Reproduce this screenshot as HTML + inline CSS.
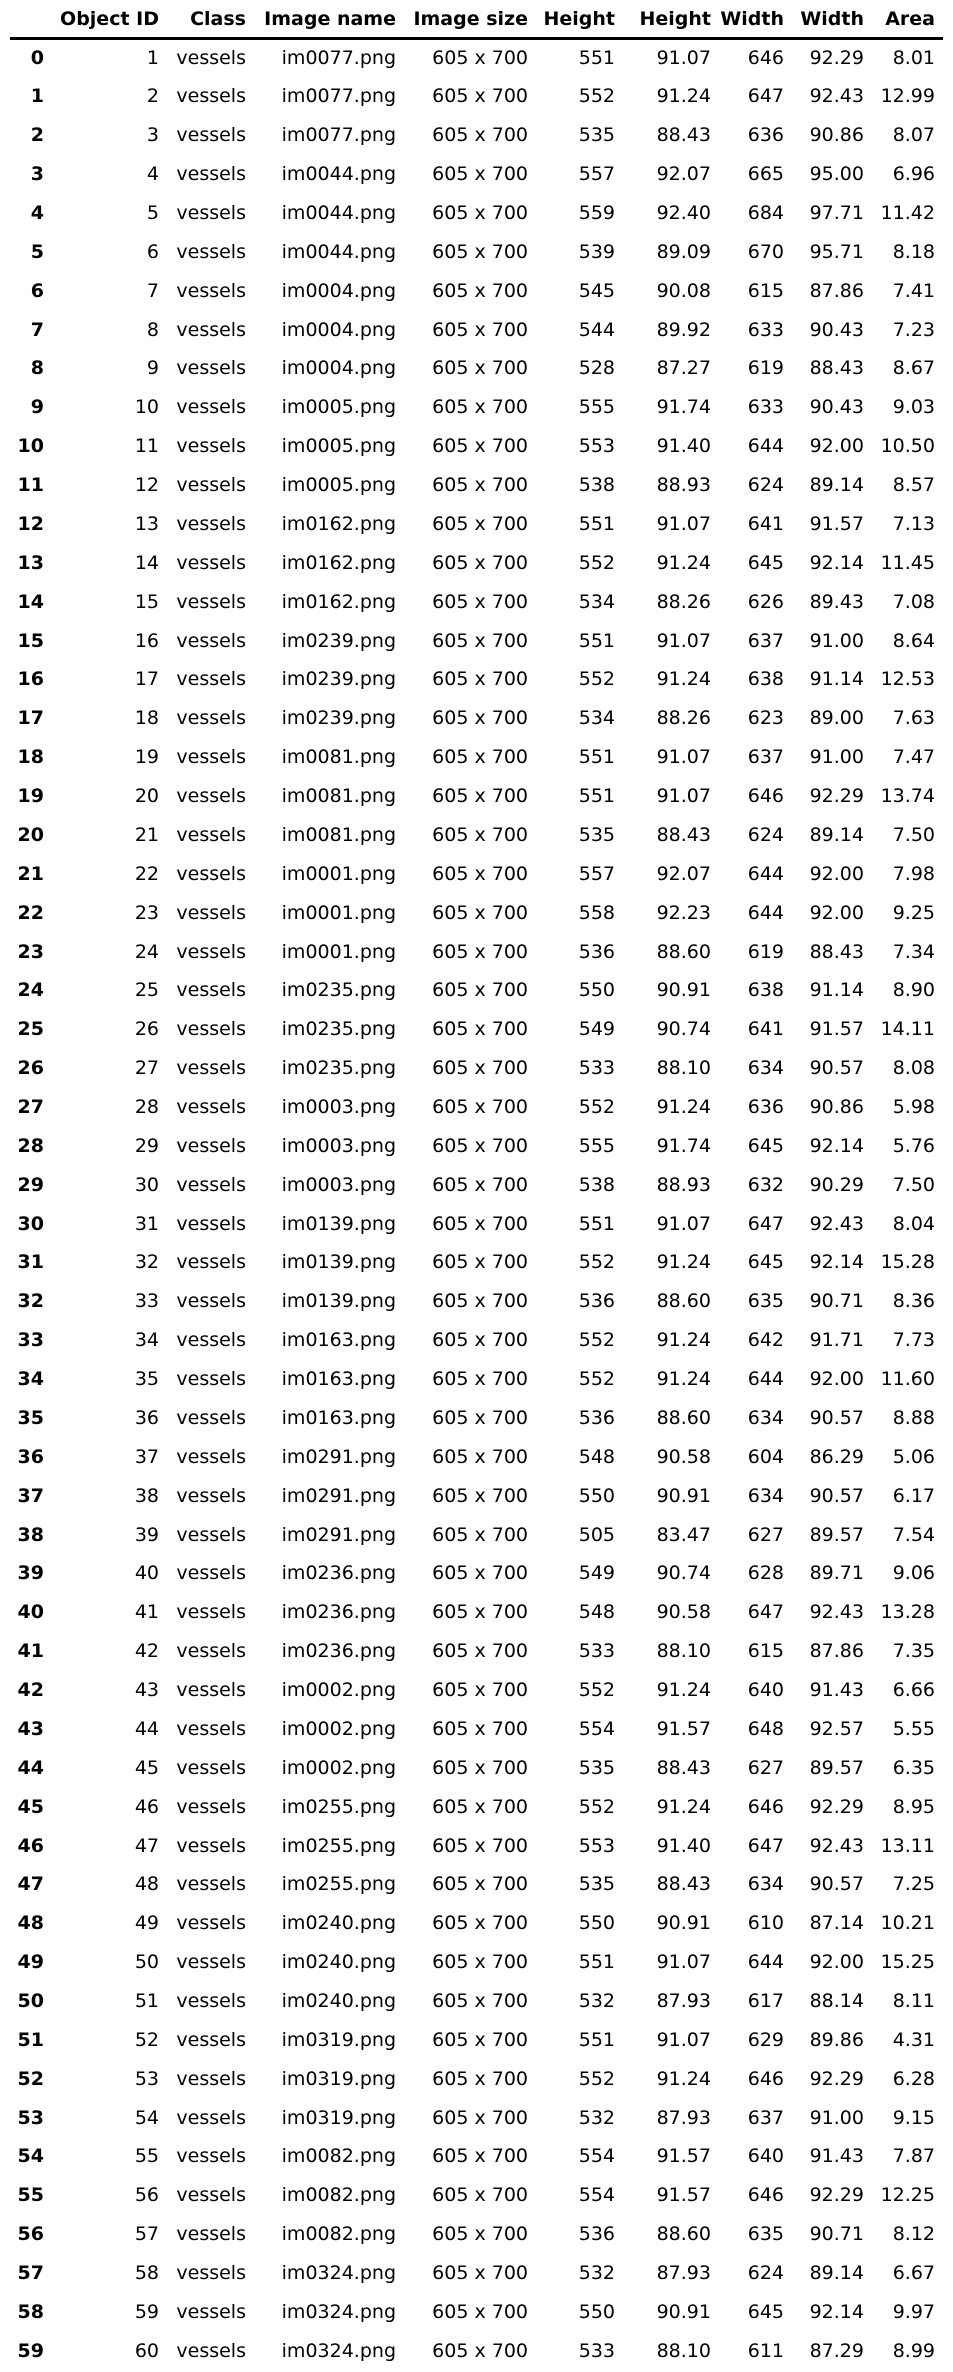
<!DOCTYPE html>
<html><head><meta charset="utf-8">
<style>
html,body{margin:0;padding:0;background:#fff;}
#tbl{position:relative;width:953px;height:2372px;font-family:"DejaVu Sans","Liberation Sans",sans-serif;font-size:19px;color:#000;}
.c{position:absolute;white-space:nowrap;line-height:24px;height:24px;}
.b{font-weight:bold;}
#rule{position:absolute;left:10px;width:933px;top:37px;height:3px;background:#000;}
</style></head>
<body>
<div id="tbl">
<div id="rule"></div>
</div>
<script>
const headers=["Object ID","Class","Image name","Image size","Height","Height","Width","Width","Area"];
const imageNames=["im0077","im0077","im0077","im0044","im0044","im0044","im0004","im0004","im0004","im0005","im0005","im0005","im0162","im0162","im0162","im0239","im0239","im0239","im0081","im0081","im0081","im0001","im0001","im0001","im0235","im0235","im0235","im0003","im0003","im0003","im0139","im0139","im0139","im0163","im0163","im0163","im0291","im0291","im0291","im0236","im0236","im0236","im0002","im0002","im0002","im0255","im0255","im0255","im0240","im0240","im0240","im0319","im0319","im0319","im0082","im0082","im0082","im0324","im0324","im0324"];
const heightPx=[551,552,535,557,559,539,545,544,528,555,553,538,551,552,534,551,552,534,551,551,535,557,558,536,550,549,533,552,555,538,551,552,536,552,552,536,548,550,505,549,548,533,552,554,535,552,553,535,550,551,532,551,552,532,554,554,536,532,550,533];
const heightPct=["91.07","91.24","88.43","92.07","92.40","89.09","90.08","89.92","87.27","91.74","91.40","88.93","91.07","91.24","88.26","91.07","91.24","88.26","91.07","91.07","88.43","92.07","92.23","88.60","90.91","90.74","88.10","91.24","91.74","88.93","91.07","91.24","88.60","91.24","91.24","88.60","90.58","90.91","83.47","90.74","90.58","88.10","91.24","91.57","88.43","91.24","91.40","88.43","90.91","91.07","87.93","91.07","91.24","87.93","91.57","91.57","88.60","87.93","90.91","88.10"];
const widthPx=[646,647,636,665,684,670,615,633,619,633,644,624,641,645,626,637,638,623,637,646,624,644,644,619,638,641,634,636,645,632,647,645,635,642,644,634,604,634,627,628,647,615,640,648,627,646,647,634,610,644,617,629,646,637,640,646,635,624,645,611];
const widthPct=["92.29","92.43","90.86","95.00","97.71","95.71","87.86","90.43","88.43","90.43","92.00","89.14","91.57","92.14","89.43","91.00","91.14","89.00","91.00","92.29","89.14","92.00","92.00","88.43","91.14","91.57","90.57","90.86","92.14","90.29","92.43","92.14","90.71","91.71","92.00","90.57","86.29","90.57","89.57","89.71","92.43","87.86","91.43","92.57","89.57","92.29","92.43","90.57","87.14","92.00","88.14","89.86","92.29","91.00","91.43","92.29","90.71","89.14","92.14","87.29"];
const areaVals=["8.01","12.99","8.07","6.96","11.42","8.18","7.41","7.23","8.67","9.03","10.50","8.57","7.13","11.45","7.08","8.64","12.53","7.63","7.47","13.74","7.50","7.98","9.25","7.34","8.90","14.11","8.08","5.98","5.76","7.50","8.04","15.28","8.36","7.73","11.60","8.88","5.06","6.17","7.54","9.06","13.28","7.35","6.66","5.55","6.35","8.95","13.11","7.25","10.21","15.25","8.11","4.31","6.28","9.15","7.87","12.25","8.12","6.67","9.97","8.99"];

const tbl=document.getElementById('tbl');
const rightEdges=[44,159,246,396,528,615,711,784,864,935];
const colNames=["row-index","object-id","class","image-name","image-size","height-px","height-pct","width-px","width-pct","area"];
function cell(text,col,yc,bold,name){
  const d=document.createElement('div');
  d.className='c'+(bold?' b':'');
  d.textContent=text;
  d.style.right=(953-rightEdges[col])+'px';
  d.style.top=(yc-12)+'px';
  
  
  tbl.appendChild(d);
}
headers.forEach((h,i)=>cell(h,i+1,18.5,true,'header-'+colNames[i+1]));
for(let i=0;i<imageNames.length;i++){
  const y=57.5+i*38.87;
  const vals=[String(i),String(i+1),"vessels",imageNames[i]+".png","605 x 700",String(heightPx[i]),heightPct[i],String(widthPx[i]),widthPct[i],areaVals[i]];
  vals.forEach((v,c)=>cell(v,c,y,c===0,colNames[c]+'-'+i));
}
</script>
</body></html>
